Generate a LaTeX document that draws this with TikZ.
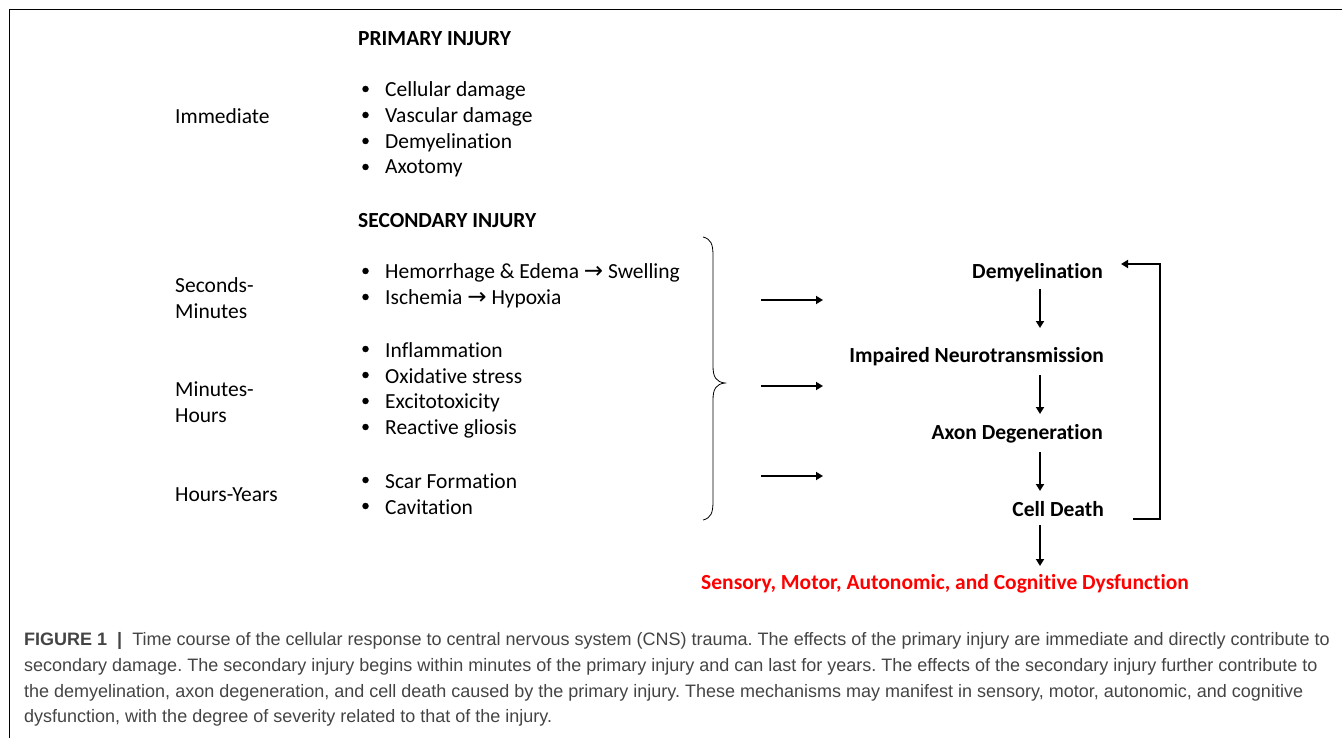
\documentclass[tikz,border=0pt]{standalone}
\usepackage{fontspec}
\setmainfont{Carlito}[Ligatures=CommonOff]
\newfontfamily\capfont{Liberation Sans}
\newfontfamily\arrowfont{DejaVu Sans}
\usetikzlibrary{arrows.meta}
\definecolor{capgray}{HTML}{444444}
\definecolor{dysred}{HTML}{FF0000}
\frenchspacing
\begin{document}
\begin{tikzpicture}[x=1pt,y=-1pt,
  txt/.style={anchor=west,inner sep=0pt,yshift=-1.5pt,font=\fontsize{21.5}{25}\selectfont},
  head/.style={anchor=west,inner sep=0pt,yshift=-1.5pt,font=\fontsize{21.5}{25}\selectfont\bfseries},
  rtxt/.style={anchor=east,inner sep=0pt,yshift=-1.5pt,font=\fontsize{21.5}{25}\selectfont\bfseries},
  bulletdot/.style={circle,fill=black,inner sep=0pt,minimum size=6.5pt},
  captxt/.style={anchor=west,inner sep=0pt,yshift=-2pt,text=capgray,font=\capfont\fontsize{18}{21}\selectfont},
  harrow/.style={line width=2.2pt,-{Triangle[length=7pt,width=8pt]}},
  varrow/.style={line width=2.2pt,-{Triangle[length=7pt,width=8pt]}},
  framel/.style={line width=1pt,black}]
\useasboundingbox (0,0) rectangle (1342,738);
% frame
\draw[framel] (1342,10) -- (9,10) -- (9,738);
% headings
\node[head] (prim) at (358,37) {PRIMARY INJURY};
\node[head] (sec) at (358,219) {SECONDARY INJURY};
% time labels
\node[txt] (imm) at (175,115) {Immediate};
\node[txt] (secmin1) at (175,284) {Seconds-};
\node[txt] (secmin2) at (175,310) {Minutes};
\node[txt] (minh1) at (175,388) {Minutes-};
\node[txt] (minh2) at (175,414) {Hours};
\node[txt] (hy) at (175,493) {Hours-Years};
% bullets
\foreach \y/\t [count=\i] in {89/Cellular damage,115/Vascular damage,141/Demyelination,167/Axotomy,
  271/Hemorrhage \& Edema {\arrowfont\fontsize{23}{24}\selectfont→} Swelling,
  297/Ischemia {\arrowfont\fontsize{23}{24}\selectfont→} Hypoxia,
  349/Inflammation,375/Oxidative stress,401/Excitotoxicity,427/Reactive gliosis,
  480/Scar Formation,506/Cavitation}{
  \node[bulletdot] (bul\i) at (365.5,\y) {};
  \node[txt] (item\i) at (385,\y) {\t};
}
% brace
\draw[line width=0.8pt] (703,237) .. controls (711,239) and (713,244) .. (713,256)
  -- (713,366) .. controls (713,377) and (716,382) .. (725,383)
  .. controls (716,384) and (713,389) .. (713,400)
  -- (713,501) .. controls (713,513) and (711,518) .. (703,520);
% horizontal arrows
\coordinate (a1s) at (761,300); \coordinate (a1e) at (823,300);
\coordinate (a2s) at (761,386); \coordinate (a2e) at (823,386);
\coordinate (a3s) at (761,476); \coordinate (a3e) at (823,476);
\draw[harrow] (a1s) -- (a1e);
\draw[harrow] (a2s) -- (a2e);
\draw[harrow] (a3s) -- (a3e);
% right column
\node[rtxt] (dem) at (1103,271) {Demyelination};
\node[rtxt] (imp) at (1104,355) {Impaired Neurotransmission};
\node[rtxt] (axd) at (1103,432) {Axon Degeneration};
\node[rtxt] (cd) at (1104,508) {Cell Death};
\node[inner sep=0pt,yshift=-1.5pt,text=dysred,font=\fontsize{21.5}{25}\selectfont\bfseries] (dys) at (945,582) {Sensory, Motor, Autonomic, and Cognitive Dysfunction};
% vertical arrows
\coordinate (v1s) at (1040,289); \coordinate (v1e) at (1040,328);
\coordinate (v2s) at (1040,375); \coordinate (v2e) at (1040,414);
\coordinate (v3s) at (1040,452); \coordinate (v3e) at (1040,491);
\coordinate (v4s) at (1040,525); \coordinate (v4e) at (1040,566);
\draw[varrow] (v1s) -- (v1e);
\draw[varrow] (v2s) -- (v2e);
\draw[varrow] (v3s) -- (v3e);
\draw[varrow] (v4s) -- (v4e);
\coordinate (fb1) at (1133,519);
\coordinate (fb2) at (1160,519);
\coordinate (fb3) at (1160,264);
\coordinate (fb4) at (1121,264);
\draw[varrow] (fb1) -- (fb2) -- (fb3) -- (fb4);
% caption
\node[captxt] (c1) at (24,639) {\textbf{FIGURE 1}\ \ \textbf{|}\ \ Time course of the cellular response to central nervous system (CNS) trauma. The effects of the primary injury are immediate and directly contribute to};
\node[captxt] (c2) at (24,665) {secondary damage. The secondary injury begins within minutes of the primary injury and can last for years. The effects of the secondary injury further contribute to};
\node[captxt] (c3) at (24,691) {the demyelination, axon degeneration, and cell death caused by the primary injury. These mechanisms may manifest in sensory, motor, autonomic, and cognitive};
\node[captxt] (c4) at (24,716) {dysfunction, with the degree of severity related to that of the injury.};
\end{tikzpicture}
\end{document}
